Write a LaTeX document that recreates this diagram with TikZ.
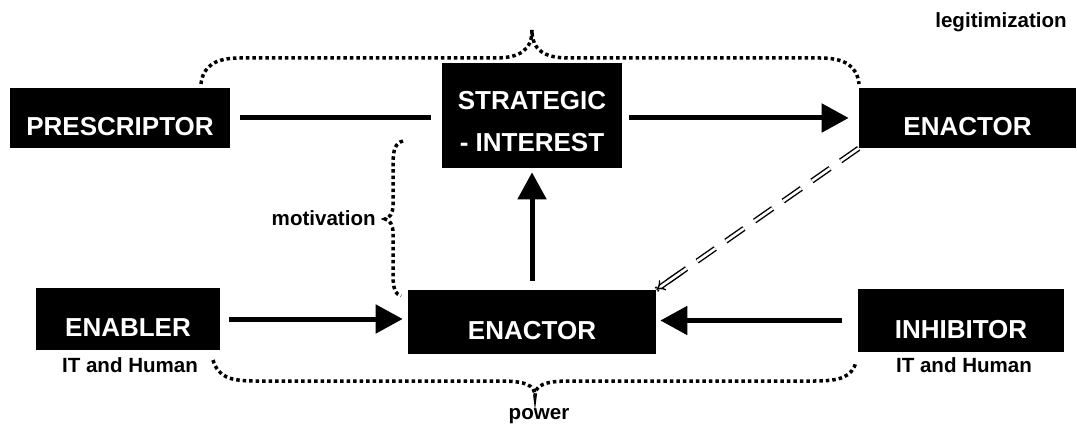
\documentclass[tikz,border=0pt]{standalone}
\usepackage{fontspec}
\setmainfont{Liberation Sans}
\usepackage{tikz}
\usetikzlibrary{arrows.meta}

\begin{document}
\begin{tikzpicture}[
      x=0.02cm, y=-0.02cm,
      actor/.style={fill=black, text=white, inner sep=0pt,
        font=\fontsize{14.8}{17.8}\selectfont\bfseries,
        text height=0.71cm, text depth=0pt},
      tag/.style={font=\fontsize{11.7}{14}\selectfont\bfseries, inner sep=0pt},
      link/.style={line width=0.1cm},
      flow/.style={-{Triangle[length=0.54cm, width=0.56cm]}, line width=0.1cm},
      feedback/.style={double, double distance=1.5pt, line width=0.8pt,
        dash pattern=on 0.44cm off 0.26cm},
      feedhead/.style={-{Implies[scale=2.3]}, double, double distance=1.5pt, line width=0.8pt},
      brace/.style={line width=0.07cm, dash pattern=on 0.07cm off 0.06cm},
    ]
    \useasboundingbox (0,0) rectangle (1077,425);

    % Actors
    \node[actor, minimum width=4.4cm, minimum height=1.2cm] (prescr) at (120,118) {PRESCRIPTOR};
    \node[actor, minimum width=3.6cm, minimum height=2.1cm, align=center,
      text height=1.45cm, text depth=0pt] (strat) at (532,115.5)
      {STRATEGIC\\[6pt]- INTEREST};
    \node[actor, minimum width=4.34cm, minimum height=1.2cm] (enacttop) at (967.5,118) {ENACTOR};
    \node[actor, minimum width=3.68cm, minimum height=1.24cm] (enabler) at (128,319) {ENABLER};
    \node[actor, minimum width=4.96cm, minimum height=1.28cm] (enactlow) at (532,322) {ENACTOR};
    \node[actor, minimum width=4.12cm, minimum height=1.26cm] (inhib) at (961,320.5) {INHIBITOR};

    % Labels
    \node[tag, anchor=base] (legit) at (1001,28) {legitimization};
    \node[tag, anchor=base east] (motiv) at (376,226) {motivation};
    \node[tag, anchor=base] (enabnote) at (130,372) {IT and Human};
    \node[tag, anchor=base] (inhibnote) at (964,372) {IT and Human};
    \node[tag, anchor=base] (powerlbl) at (539,419) {power};

    % Connectors
    \draw[link, shorten <=0.2cm, shorten >=0.22cm] (prescr.east) -- (prescr.east -| strat.west);
    \draw[flow, shorten <=0.14cm, shorten >=0.2cm] (strat.east |- enacttop.west) -- (enacttop.west);
    \draw[flow, shorten <=0.18cm, shorten >=0.08cm] (enactlow.north) -- (strat.south);
    \draw[flow, shorten <=0.18cm, shorten >=0.1cm] (enabler.east) -- (enabler.east -| enactlow.west);
    \draw[flow, shorten <=0.32cm, shorten >=0.08cm] (inhib.west) -- (inhib.west -| enactlow.east);
    \draw[feedback] (enacttop.south west) -- coordinate[pos=0.88] (headstart) (enactlow.north east);
    \draw[feedhead] (headstart) -- (enactlow.north east);

    % Braces
    \draw[brace] (201,84) .. controls (203,66) and (215,58) .. (240,58) -- (495,58)
      .. controls (520,58) and (532,50) .. (532,30)
      .. controls (532,50) and (544,58) .. (569,58) -- (820,58)
      .. controls (845,58) and (857,66) .. (859,84);
    \draw[brace] (403,141) .. controls (395,143) and (393,150) .. (393,165) -- (393,205)
      .. controls (393,213) and (390,218) .. (385,219)
      .. controls (390,220) and (393,225) .. (393,233) -- (393,275)
      .. controls (393,288) and (395,294) .. (401,296);
    \draw[brace] (213,360) .. controls (218,377) and (230,381) .. (255,381) -- (500,381)
      .. controls (525,381) and (535,385) .. (535,396)
      .. controls (535,385) and (545,381) .. (570,381) -- (815,381)
      .. controls (840,381) and (852,377) .. (856,362);
\end{tikzpicture}
\end{document}
